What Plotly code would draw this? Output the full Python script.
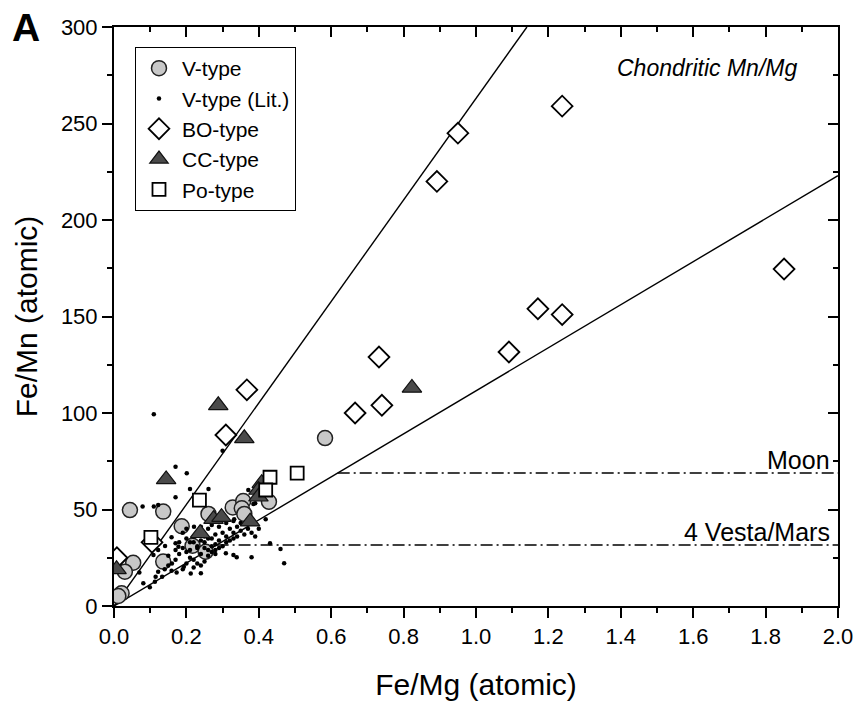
import plotly.graph_objects as go

# ---------------- data ----------------
v_x = [0.583, 0.044, 0.136, 0.261, 0.328, 0.357, 0.353, 0.360, 0.428, 0.187,
       0.217, 0.253, 0.136, 0.053, 0.030, 0.021, 0.012]
v_y = [87.0, 49.7, 48.9, 47.7, 51.1, 54.4, 50.6, 47.7, 54.0, 41.3,
       31.2, 28.1, 23.0, 22.4, 17.8, 6.6, 5.2]

lit_x = [0.110, 0.300, 0.170, 0.201, 0.210, 0.261, 0.170, 0.371, 0.385, 0.079,
         0.110, 0.122, 0.390, 0.332, 0.419, 0.431, 0.460, 0.470, 0.380, 0.339,
         0.330, 0.309, 0.081, 0.099, 0.113, 0.122, 0.159, 0.173, 0.109, 0.070,
         0.159, 0.178, 0.141, 0.122, 0.115, 0.133, 0.212, 0.193, 0.221, 0.170,
         0.19, 0.20, 0.21, 0.22, 0.23, 0.24, 0.25, 0.26, 0.27, 0.28,
         0.29, 0.30, 0.31, 0.32, 0.33, 0.34, 0.35, 0.36, 0.37, 0.38,
         0.39, 0.40, 0.20, 0.21, 0.22, 0.23, 0.24, 0.25, 0.26, 0.27,
         0.28, 0.29, 0.30, 0.31, 0.32, 0.33, 0.34, 0.19, 0.18, 0.17,
         0.16, 0.15, 0.14, 0.15, 0.17, 0.18, 0.20, 0.23, 0.24, 0.26,
         0.27, 0.29, 0.31, 0.33, 0.35, 0.37, 0.25, 0.26, 0.28, 0.22,
         0.24, 0.23, 0.25, 0.20, 0.19, 0.21, 0.22, 0.24, 0.27, 0.28]
lit_y = [99.3, 80.5, 72.2, 68.8, 60.6, 60.6, 56.3, 60.1, 52.8, 51.5,
         51.5, 52.3, 53.2, 45.0, 44.9, 32.5, 29.5, 22.1, 25.2, 25.2,
         26.4, 27.3, 11.8, 9.7, 12.6, 17.8, 18.3, 17.3, 26.4, 17.3,
         35.6, 30.7, 31.1, 29.0, 15.2, 15.2, 16.9, 20.4, 41.1, 32.5,
         38, 35, 33, 36, 30, 27, 33, 35, 31, 37,
         34, 38, 36, 40, 38, 41, 39, 37, 40, 38,
         36, 40, 28, 25, 24, 22, 21, 23, 26, 28,
         29, 30, 31, 33, 34, 35, 36, 30, 27, 24,
         22, 21, 19, 26, 29, 33, 40, 38, 41, 40,
         42, 41, 43, 44, 43, 44, 36, 29, 27, 20,
         17, 31, 30, 22, 19, 29, 33, 34, 35, 32]

bo_x = [0.950, 0.892, 1.238, 1.851, 1.171, 1.238, 1.091, 0.732, 0.740, 0.666,
        0.367, 0.309, 0.008, 0.105]
bo_y = [245.0, 220.0, 259.0, 174.6, 154.0, 151.0, 131.6, 129.0, 104.0, 100.0,
        112.0, 88.6, 25.0, 33.0]

cc_x = [0.288, 0.360, 0.823, 0.144, 0.408, 0.399, 0.399, 0.275, 0.297, 0.376,
        0.238, 0.007]
cc_y = [104.0, 86.9, 113.0, 65.6, 63.6, 60.1, 56.6, 45.0, 46.0, 43.7,
        37.7, 19.0]

po_x = [0.236, 0.431, 0.419, 0.506, 0.102]
po_y = [54.9, 66.7, 60.1, 68.8, 35.6]

# chondritic Mn/Mg reference lines (Fe/Mn = slope * Fe/Mg)
chond_slopes = [263.0, 111.5]
# planetary Fe/Mn levels
level_names = ["Moon", "4 Vesta/Mars"]
level_values = [68.9, 31.6]

x_range = [0, 2.0]
y_range = [0, 300]

FONT = "Liberation Sans, Arial, sans-serif"

fig = go.Figure()

# reference lines
for s in chond_slopes:
    xe = min(x_range[1], y_range[1] / s)
    fig.add_trace(go.Scatter(x=[0, xe], y=[0, s * xe], mode="lines",
                             line=dict(color="black", width=1.4),
                             showlegend=False, hoverinfo="skip"))
for name, v in zip(level_names, level_values):
    x0 = v / chond_slopes[1]
    fig.add_trace(go.Scatter(x=[x0, x_range[1]], y=[v, v], mode="lines",
                             line=dict(color="black", width=1.3, dash="12px,4px,2px,4px"),
                             showlegend=False, hoverinfo="skip"))
    fig.add_annotation(x=x_range[1], y=v, xref="x", yref="y", text=name,
                       showarrow=False, xanchor="right", yanchor="bottom",
                       xshift=-6, yshift=-3, font=dict(family=FONT, size=25, color="black"))

fig.add_trace(go.Scatter(x=v_x, y=v_y, mode="markers", name="V-type",
                         marker=dict(symbol="circle", size=15, color="#c8c8c8",
                                     line=dict(color="#222222", width=1.5))))
fig.add_trace(go.Scatter(x=lit_x, y=lit_y, mode="markers", name="V-type (Lit.)",
                         marker=dict(symbol="circle", size=4.5, color="black",
                                     line=dict(width=0))))
fig.add_trace(go.Scatter(x=bo_x, y=bo_y, mode="markers", name="BO-type",
                         marker=dict(symbol="diamond", size=16, color="white",
                                     line=dict(color="black", width=1.8))))
fig.add_trace(go.Scatter(x=cc_x, y=cc_y, mode="markers", name="CC-type",
                         marker=dict(symbol="triangle-up", size=17, color="#4a4a4a",
                                     line=dict(color="#111111", width=1.2))))
fig.add_trace(go.Scatter(x=po_x, y=po_y, mode="markers", name="Po-type",
                         marker=dict(symbol="square", size=13, color="white",
                                     line=dict(color="black", width=1.8))))

# dummy trace to activate mirrored top/right axes
fig.add_trace(go.Scatter(x=[], y=[], xaxis="x2", yaxis="y2", showlegend=False,
                         hoverinfo="skip"))

fig.add_annotation(x=1.637, y=279, xref="x", yref="y", text="<i>Chondritic Mn/Mg</i>",
                   showarrow=False, font=dict(family=FONT, size=23, color="black"))
fig.add_annotation(x=-0.143, y=1.04, xref="paper", yref="paper", text="<b>A</b>",
                   showarrow=False, xanchor="left", yanchor="top",
                   font=dict(family=FONT, size=39, color="black"))

axis_common = dict(showgrid=False, zeroline=False, showline=True, linecolor="black",
                   linewidth=2, tickcolor="black", tickwidth=2, automargin=False)

fig.update_layout(
    width=858, height=704,
    margin=dict(l=114, r=20, t=27, b=98, autoexpand=False),
    paper_bgcolor="white", plot_bgcolor="white",
    font=dict(family=FONT, color="black"),
    xaxis=dict(range=x_range, dtick=0.2, tick0=0, tickformat=".1f",
               ticks="outside", ticklen=10,
               minor=dict(ticks="outside", ticklen=5, dtick=0.1, tickwidth=2, tickcolor="black"),
               tickfont=dict(size=22, family=FONT),
               title=dict(text="Fe/Mg (atomic)", font=dict(size=30, family=FONT), standoff=26),
               **axis_common),
    yaxis=dict(range=y_range, dtick=50, tick0=0,
               ticks="outside", ticklen=10,
               minor=dict(ticks="outside", ticklen=5, dtick=25, tickwidth=2, tickcolor="black"),
               tickfont=dict(size=22, family=FONT),
               title=dict(text="Fe/Mn (atomic)", font=dict(size=30, family=FONT), standoff=14),
               **axis_common),
    xaxis2=dict(range=x_range, overlaying="x", side="top", dtick=0.2, tick0=0,
                ticks="inside", ticklen=10, showticklabels=False,
                minor=dict(ticks="inside", ticklen=5, dtick=0.1, tickwidth=2, tickcolor="black"),
                **axis_common),
    yaxis2=dict(range=y_range, overlaying="y", side="right", dtick=50, tick0=0,
                ticks="inside", ticklen=10, showticklabels=False,
                minor=dict(ticks="inside", ticklen=5, dtick=25, tickwidth=2, tickcolor="black"),
                **axis_common),
    legend=dict(x=0.029, y=0.9655, xanchor="left", yanchor="top",
                bordercolor="black", borderwidth=1, bgcolor="white",
                font=dict(size=21, family=FONT), tracegroupgap=0,
                itemsizing="trace", itemwidth=36),
    showlegend=True,
)

fig.write_html("out.html")
